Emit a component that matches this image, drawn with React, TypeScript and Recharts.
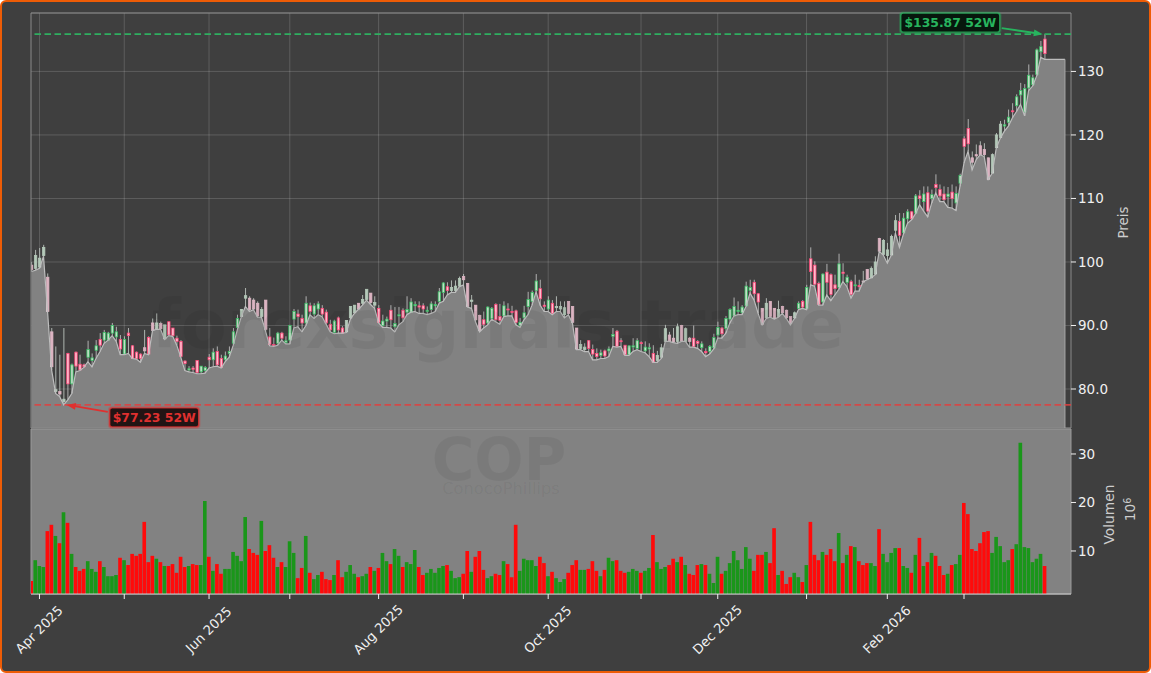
// COP Kurschart: Kerzen + Low-Flaeche oben, Volumen unten. Index = Handelstag.
import { Area, Bar, CartesianGrid, Cell, ComposedChart, ReferenceArea, ReferenceDot, ReferenceLine, XAxis, YAxis } from "recharts";

const opens = [
  99.5, 99.0, 99.2, 101.0, 97.6, 89.0, 79.6, 79.6, 78.0, 85.6,
  80.8, 85.8, 83.9, 83.8, 85.0, 84.5, 86.1, 87.8, 87.7, 87.7,
  88.8, 88.2, 87.8, 85.5, 88.8, 86.8, 85.8, 85.5, 86.5, 88.1,
  90.4, 89.5, 90.3, 87.9, 90.6, 89.6, 88.0, 87.5, 84.4, 83.0,
  83.3, 84.5, 82.7, 82.9, 85.0, 84.6, 85.9, 84.8, 84.6, 85.6,
  87.2, 89.7, 91.4, 94.3, 94.3, 94.0, 93.5, 91.4, 94.0, 88.2,
  87.0, 87.2, 88.8, 87.3, 87.7, 91.0, 91.8, 91.1, 90.4, 93.1,
  91.8, 92.6, 92.7, 92.1, 90.2, 88.9, 91.2, 89.6, 89.0, 91.2,
  92.0, 93.5, 93.5, 94.1, 95.1, 93.2, 92.7, 90.0, 90.7, 92.4,
  89.8, 91.5, 92.4, 92.1, 92.1, 93.1, 93.1, 93.1, 92.2, 92.5,
  93.1, 93.8, 95.2, 96.1, 95.5, 95.5, 96.2, 97.7, 96.6, 93.8,
  93.2, 91.6, 90.9, 90.4, 91.1, 93.3, 91.4, 91.5, 92.6, 92.2,
  92.3, 90.0, 91.2, 93.0, 93.8, 95.5, 95.8, 93.2, 92.6, 93.5,
  92.8, 92.6, 91.7, 93.8, 93.0, 89.6, 86.4, 86.2, 87.6, 86.2,
  85.6, 85.3, 86.0, 86.0, 88.3, 89.1, 87.6, 86.9, 85.4, 86.6,
  86.4, 87.3, 86.0, 86.3, 85.6, 84.5, 85.0, 87.5, 88.5, 88.0,
  87.5, 90.0, 87.5, 88.0, 88.0, 87.5, 86.5, 85.9, 85.9, 86.5,
  88.5, 89.6, 89.5, 91.0, 91.5, 92.2, 92.0, 93.1, 95.5, 96.8,
  95.0, 92.7, 91.2, 93.8, 92.7, 91.4, 93.0, 92.4, 91.4, 91.2,
  92.7, 93.8, 92.7, 100.5, 99.5, 96.6, 93.7, 98.4, 98.0, 96.4,
  96.0, 98.4, 96.8, 96.9, 96.3, 96.3, 97.0, 98.8, 97.5, 98.1,
  103.7, 101.2, 101.0, 101.1, 105.0, 106.4, 104.6, 106.8, 107.9, 107.7,
  110.4, 109.5, 110.9, 110.0, 112.2, 111.4, 110.7, 110.3, 111.0, 109.3,
  112.4, 119.4, 121.0, 116.4, 116.9, 118.3, 117.7, 116.4, 114.0, 118.0,
  119.6, 121.4, 122.0, 123.8, 124.6, 126.3, 123.6, 127.4, 127.9, 129.5, 133.1, 135.1,
];
const closes = [
  98.8, 101.0, 100.6, 102.3, 92.2, 83.5, 79.9, 79.2, 78.4, 80.8,
  83.8, 83.6, 83.0, 83.5, 86.2, 84.9, 86.8, 86.9, 88.9, 88.8,
  90.0, 89.0, 86.3, 87.8, 88.4, 84.8, 84.8, 84.8, 86.0, 85.5,
  89.2, 90.4, 89.5, 90.1, 88.5, 88.4, 87.5, 85.1, 84.0, 83.2,
  83.1, 82.6, 83.6, 83.4, 84.6, 85.8, 83.8, 83.4, 85.2, 85.9,
  89.0, 91.1, 92.5, 94.7, 92.5, 92.6, 91.5, 92.5, 89.4, 87.0,
  86.8, 88.8, 88.0, 87.6, 90.0, 92.2, 91.4, 90.4, 93.5, 92.2,
  93.1, 93.4, 91.8, 90.4, 89.3, 90.7, 89.3, 88.8, 90.8, 93.0,
  93.2, 92.6, 94.1, 95.7, 93.6, 93.6, 90.5, 90.7, 91.0, 90.9,
  90.3, 91.7, 91.2, 92.5, 93.7, 93.3, 92.9, 92.6, 92.4, 93.4,
  93.3, 95.3, 96.7, 95.5, 96.0, 96.2, 97.4, 97.2, 93.0, 94.0,
  90.9, 89.2, 90.2, 92.9, 92.7, 90.9, 90.8, 93.1, 92.5, 92.1,
  90.5, 90.5, 92.0, 94.1, 95.2, 97.0, 94.2, 93.0, 94.0, 91.9,
  93.0, 93.0, 92.8, 91.9, 90.5, 86.3, 87.0, 86.6, 86.4, 85.5,
  85.1, 85.7, 85.2, 86.3, 88.6, 86.7, 87.5, 85.4, 86.8, 86.8,
  87.6, 87.2, 86.6, 86.5, 84.2, 85.3, 86.5, 89.5, 87.6, 87.4,
  89.8, 87.6, 89.5, 87.5, 86.7, 87.2, 87.1, 85.7, 86.7, 88.1,
  89.7, 88.7, 91.1, 92.5, 93.0, 92.4, 92.9, 96.2, 96.0, 95.0,
  93.7, 90.2, 93.5, 91.4, 91.2, 92.5, 92.0, 91.2, 90.3, 92.0,
  93.5, 92.9, 96.0, 98.5, 96.5, 93.3, 98.1, 96.8, 94.9, 95.8,
  99.7, 98.2, 97.6, 94.9, 96.4, 96.1, 96.9, 97.3, 99.0, 100.0,
  101.7, 103.4, 101.9, 104.0, 106.5, 104.2, 106.9, 107.9, 106.8, 110.4,
  110.0, 110.7, 108.0, 110.6, 111.7, 110.4, 109.8, 110.7, 110.0, 110.8,
  113.6, 118.2, 118.6, 115.7, 116.7, 116.9, 116.9, 113.0, 116.9, 120.0,
  121.7, 121.6, 122.8, 123.7, 126.0, 127.0, 127.3, 129.4, 129.0, 133.4, 133.9, 132.8,
];
const highs = [
  100.0, 101.9, 102.2, 102.7, 98.2, 89.6, 86.7, 85.4, 89.6, 85.7,
  84.0, 85.9, 85.4, 84.0, 87.6, 85.6, 87.7, 88.8, 89.3, 89.0,
  90.4, 89.8, 88.5, 88.3, 89.6, 86.9, 85.9, 85.6, 89.3, 88.3,
  91.1, 91.9, 90.6, 90.1, 90.6, 89.6, 88.4, 87.7, 84.5, 83.6,
  83.6, 84.5, 83.6, 83.6, 85.5, 86.4, 86.7, 85.4, 85.9, 86.7,
  89.6, 91.7, 92.6, 95.9, 94.6, 94.3, 93.8, 92.9, 94.0, 89.6,
  88.1, 89.0, 89.0, 88.3, 90.1, 92.6, 92.5, 91.7, 94.6, 93.6,
  93.5, 93.8, 93.2, 92.5, 90.9, 90.9, 91.4, 89.9, 90.8, 93.0,
  93.2, 93.5, 94.8, 95.7, 95.1, 94.6, 93.2, 91.7, 91.4, 93.2,
  92.9, 92.9, 92.7, 94.6, 94.3, 93.8, 93.8, 93.5, 93.0, 93.8,
  93.8, 95.9, 96.8, 96.8, 97.1, 97.1, 97.7, 98.1, 96.7, 94.8,
  93.2, 91.7, 92.2, 93.0, 92.9, 93.5, 93.4, 93.8, 93.5, 93.1,
  92.5, 91.2, 93.1, 95.3, 95.5, 98.1, 97.2, 93.8, 94.6, 94.0,
  94.6, 93.8, 93.8, 93.8, 93.0, 89.6, 87.7, 87.2, 87.7, 87.0,
  86.4, 86.2, 86.2, 86.7, 89.6, 89.3, 88.0, 86.9, 86.9, 88.0,
  88.0, 87.5, 87.5, 87.2, 86.9, 86.0, 87.1, 90.1, 89.0, 89.6,
  90.3, 90.1, 89.7, 88.2, 90.0, 87.7, 87.5, 86.4, 86.9, 88.7,
  90.6, 89.8, 91.5, 92.7, 94.4, 93.8, 93.2, 96.9, 97.2, 97.2,
  95.1, 92.7, 94.3, 93.8, 92.7, 93.9, 93.1, 92.5, 91.4, 92.2,
  93.8, 94.0, 96.4, 102.3, 100.1, 96.9, 98.2, 99.7, 98.2, 98.0,
  101.3, 99.8, 98.0, 97.2, 98.0, 97.2, 98.6, 98.9, 99.3, 100.9,
  103.8, 103.6, 103.0, 104.3, 107.4, 107.7, 107.7, 108.3, 108.0, 110.7,
  111.3, 111.9, 111.9, 111.4, 113.8, 112.2, 111.9, 111.8, 112.2, 111.9,
  113.9, 119.8, 122.5, 117.4, 118.5, 119.0, 118.7, 116.4, 117.1, 120.3,
  122.2, 122.4, 124.0, 125.0, 126.4, 128.2, 128.0, 131.1, 129.5, 133.6, 134.8, 135.87,
];
// die letzten fuenf Werte fuehren nur die Flaeche flach weiter
const lows = [
  98.5, 98.7, 99.0, 100.9, 92.2, 83.0, 79.3, 78.8, 77.5, 78.3,
  79.3, 82.7, 82.9, 83.4, 84.3, 83.5, 84.8, 85.9, 87.2, 87.7,
  88.4, 87.5, 85.4, 85.4, 85.6, 84.8, 84.7, 84.2, 85.6, 85.4,
  89.2, 89.4, 89.4, 87.8, 88.4, 88.3, 86.9, 85.0, 82.9, 82.7,
  82.6, 82.4, 82.4, 82.5, 83.3, 83.5, 83.6, 83.3, 84.3, 85.0,
  86.9, 89.3, 91.4, 93.0, 92.2, 92.5, 91.3, 91.3, 89.1, 86.8,
  86.7, 86.9, 87.7, 87.1, 87.1, 89.6, 89.8, 89.0, 90.0, 91.7,
  91.1, 91.7, 91.4, 90.2, 89.0, 88.7, 88.8, 88.8, 88.9, 91.0,
  91.9, 92.55, 93.2, 94.0, 93.3, 92.7, 90.4, 89.7, 89.7, 89.6,
  89.0, 90.1, 90.6, 91.7, 92.1, 92.2, 91.9, 91.9, 91.7, 91.9,
  92.2, 93.5, 93.8, 94.8, 95.2, 95.2, 96.1, 96.4, 92.9, 92.7,
  90.6, 89.0, 89.6, 90.1, 91.0, 90.6, 90.2, 91.4, 91.5, 91.5,
  90.1, 89.7, 90.9, 91.7, 93.2, 95.3, 93.2, 92.2, 92.2, 91.7,
  92.2, 92.2, 91.2, 91.7, 90.4, 86.2, 86.2, 85.9, 85.9, 84.6,
  84.6, 84.8, 84.8, 85.1, 86.7, 86.6, 86.7, 85.3, 85.3, 85.9,
  86.2, 85.9, 85.7, 85.1, 84.2, 84.2, 84.8, 87.5, 87.5, 87.3,
  87.2, 87.5, 87.5, 86.6, 86.6, 86.4, 85.9, 85.1, 85.5, 86.3,
  88.0, 88.0, 88.8, 90.4, 91.5, 91.7, 91.7, 93.0, 95.1, 94.0,
  91.9, 90.1, 91.1, 91.3, 91.0, 91.3, 91.9, 91.1, 90.1, 91.1,
  92.5, 92.7, 92.5, 96.4, 96.2, 93.2, 93.2, 94.8, 93.9, 94.8,
  95.7, 96.9, 96.1, 94.3, 95.4, 95.4, 96.9, 97.2, 97.5, 98.0,
  101.7, 101.1, 99.8, 101.1, 104.55, 102.3, 104.4, 106.1, 106.65, 107.6,
  109.0, 108.0, 107.1, 109.3, 110.9, 109.5, 109.5, 108.6, 108.5, 108.1,
  111.9, 115.6, 117.4, 114.5, 116.1, 116.9, 116.6, 113.0, 114.0, 118.0,
  119.5, 120.6, 121.4, 122.7, 123.7, 124.8, 123.0, 127.0, 127.7, 129.3, 132.2, 131.9,
  131.9, 131.9, 131.9, 131.9, 131.9,
];
const volumes = [
  3.8, 8.1, 6.9, 6.7, 14.1, 15.4, 13.1, 11.6, 18.0, 15.8,
  9.4, 6.7, 5.9, 6.3, 7.9, 6.3, 5.7, 7.9, 6.7, 4.8,
  4.8, 5.05, 8.6, 8.1, 7.1, 9.4, 9.0, 9.4, 16.0, 7.7,
  9.0, 8.4, 7.7, 6.9, 6.9, 7.3, 5.5, 8.8, 6.7, 6.9,
  7.3, 7.1, 7.1, 20.3, 8.8, 5.9, 7.3, 5.3, 6.3, 6.3,
  9.8, 9.0, 7.9, 17.0, 10.4, 9.6, 9.2, 16.2, 10.0, 11.2,
  8.6, 6.7, 7.7, 6.7, 12.0, 9.6, 4.4, 6.5, 13.1, 5.5,
  4.2, 5.05, 5.7, 4.2, 4.0, 5.05, 8.1, 4.6, 5.7, 7.1,
  5.3, 4.6, 4.8, 5.3, 6.7, 5.9, 6.5, 9.6, 7.9, 7.3,
  10.4, 9.0, 6.7, 7.7, 7.3, 10.2, 6.7, 5.05, 5.5, 6.3,
  5.5, 6.5, 6.9, 7.1, 5.9, 4.4, 4.6, 5.3, 10.0, 5.7,
  8.8, 10.0, 6.1, 4.4, 4.8, 5.3, 5.05, 7.9, 7.3, 4.6,
  15.4, 5.9, 8.4, 8.1, 8.1, 6.9, 8.8, 7.5, 4.8, 5.7,
  4.4, 3.6, 4.2, 5.5, 7.1, 8.1, 6.1, 6.1, 6.3, 7.9,
  5.9, 4.8, 6.1, 8.6, 7.9, 8.1, 5.9, 5.5, 5.7, 6.3,
  5.9, 5.5, 5.9, 6.5, 13.3, 7.7, 6.3, 6.7, 7.1, 8.4,
  7.7, 8.8, 7.1, 5.3, 5.05, 7.1, 7.3, 7.1, 5.3, 3.4,
  8.8, 5.3, 5.9, 7.5, 10.0, 8.1, 6.3, 10.8, 8.4, 5.9,
  9.2, 9.2, 9.8, 7.5, 14.7, 5.05, 5.9, 3.2, 4.6, 5.5,
  4.6, 3.6, 7.1, 16.0, 9.2, 8.1, 9.8, 9.2, 10.4, 7.9,
  13.7, 7.5, 9.2, 11.0, 10.8, 7.9, 7.1, 7.5, 7.5, 6.9,
  14.5, 9.4, 7.7, 9.6, 10.6, 10.6, 6.9, 6.5, 5.5, 9.2,
  12.7, 6.9, 7.7, 9.6, 9.0, 6.9, 5.05, 5.3, 7.1, 7.3,
  9.2, 19.9, 17.6, 10.4, 10.0, 11.6, 13.9, 14.1, 9.6, 12.9,
  11.0, 7.7, 8.1, 10.4, 11.4, 32.3, 10.8, 10.6, 7.7, 8.4, 9.4, 6.9,
];
// 1 = Volumen gruen, 0 = rot
const volumeUp = [
  0, 1, 1, 1, 0, 0, 1, 0, 1, 0,
  1, 0, 0, 0, 1, 1, 1, 0, 1, 1,
  1, 1, 0, 1, 0, 0, 0, 0, 0, 0,
  0, 1, 0, 1, 0, 0, 0, 0, 0, 1,
  0, 0, 1, 1, 0, 1, 0, 0, 1, 1,
  1, 1, 1, 1, 0, 0, 0, 1, 0, 0,
  0, 1, 0, 1, 1, 1, 0, 0, 1, 0,
  1, 1, 0, 0, 0, 1, 0, 0, 1, 1,
  1, 0, 1, 1, 0, 1, 0, 1, 1, 0,
  1, 1, 0, 1, 1, 1, 0, 0, 1, 1,
  1, 1, 1, 0, 1, 1, 1, 0, 0, 1,
  0, 0, 0, 1, 1, 0, 0, 1, 0, 0,
  0, 1, 1, 1, 1, 1, 0, 0, 1, 0,
  1, 1, 1, 0, 0, 0, 1, 1, 0, 0,
  0, 1, 0, 1, 1, 0, 0, 0, 1, 1,
  1, 0, 1, 1, 0, 1, 1, 1, 0, 0,
  1, 0, 1, 0, 0, 0, 1, 0, 1, 1,
  1, 0, 1, 1, 1, 1, 1, 1, 1, 0,
  0, 0, 1, 0, 0, 1, 0, 0, 0, 1,
  1, 0, 1, 0, 0, 0, 1, 0, 0, 0,
  1, 0, 1, 0, 1, 0, 0, 0, 1, 1,
  0, 1, 1, 1, 1, 0, 1, 1, 0, 1,
  0, 1, 0, 1, 0, 0, 0, 1, 0, 1,
  1, 0, 0, 0, 0, 0, 0, 0, 1, 1,
  1, 1, 1, 0, 1, 1, 1, 1, 1, 1, 1, 0,
];
// Kerzen, die im Bild nur blass durch die Flaeche scheinen
const paleCandles = [
  0, 1, 2, 3, 4, 5, 6, 7, 8, 28, 30, 31, 32, 33, 52, 53, 54, 55, 56, 57, 58,
  78, 79, 80, 81, 82, 83, 84, 85, 104, 105, 106, 107, 108, 109, 110, 111,
  130, 131, 132, 133, 134, 135, 136, 137, 155, 156, 157, 158, 159, 160, 161, 162, 163,
  181, 182, 183, 184, 185, 186, 187, 188, 189, 206, 207, 208, 209, 210, 211, 212, 213, 214,
  233, 234, 235, 236, 237, 238, 239, 240,
];

const monthTicks = [2, 23, 44, 64, 86, 107, 128, 151, 170, 192, 212, 231];
const monthLabels = ["Apr 2025", "", "Jun 2025", "", "Aug 2025", "", "Oct 2025", "", "Dec 2025", "", "Feb 2026", ""];
const priceTicks = [80, 90, 100, 110, 120, 130];
const volumeTicks = [10, 20, 30];
const yearHigh = 135.87;
const yearLow = 77.5;

const X_DOMAIN = [-0.1, 257.5];
const PRICE_DOMAIN = [73.86, 139.2];
const VOLUME_DOMAIN = [1.13, 35.15];
const WHITE = "#f0f0f0";
const TICK_FONT = 13.5;

const priceRows = lows.map((low, i) => ({ i, low, open: opens[i], close: closes[i], high: highs[i] }));
const volumeRows = volumes.map((volume, i) => ({ i, volume }));

function Candle(props: any) {
  const { x, y, width, height, payload } = props;
  if (payload.high == null) return null;
  const k = height / (payload.high - payload.low);
  const up = payload.close >= payload.open;
  const pale = paleCandles.includes(payload.i);
  const top = y + (payload.high - Math.max(payload.open, payload.close)) * k;
  const bodyH = Math.max(Math.abs(payload.open - payload.close) * k, 1);
  const mid = x + width / 2;
  const edge = pale ? (up ? "#b4c9b9" : "#dcb4c2") : up ? "#36c263" : "#ff4477";
  const fill = pale ? edge : up ? "#c4dcc8" : "#ffbccd";
  return (
    <g>
      <line x1={mid} x2={mid} y1={y} y2={y + height} stroke={pale ? "#bcc4be" : "#bdbdbd"} strokeWidth={0.9} />
      <rect x={x} y={top} width={width} height={bodyH} fill={fill} stroke={edge} strokeWidth={0.75} />
    </g>
  );
}

function MonthTick({ x, y, payload }: any) {
  const label = monthLabels[monthTicks.indexOf(payload.value)];
  if (!label) return null;
  return (
    <text x={x} y={y + 33} textAnchor="middle" fontSize={13.2} fill={WHITE} transform={`rotate(-45 ${x} ${y + 29})`}>
      {label}
    </text>
  );
}

function priceLabel(v: number) {
  return v >= 100 ? String(v) : v.toFixed(1);
}

function Callout({ cx, cy, text, color, boxFill, boxX, boxY, boxW, tipX, tailX, tailY }: any) {
  const tip = cx + tipX;
  const dx = cx + tailX - tip;
  const dy = tailY;
  const len = Math.hypot(dx, dy);
  const ux = dx / len;
  const uy = dy / len;
  const head = `${tip},${cy} ${tip + ux * 9 - uy * 3.5},${cy + uy * 9 + ux * 3.5} ${tip + ux * 9 + uy * 3.5},${cy + uy * 9 - ux * 3.5}`;
  return (
    <g>
      <line x1={cx + tailX} y1={cy + tailY} x2={tip + ux * 8} y2={cy + uy * 8} stroke={color} strokeWidth={1.8} />
      <polygon points={head} fill={color} />
      <rect x={cx + boxX - 1} y={cy + boxY - 1} width={boxW + 2} height={21} rx={3} fill="none" stroke={color} strokeWidth={1.5} strokeOpacity={0.3} />
      <rect x={cx + boxX} y={cy + boxY} width={boxW} height={19} rx={2.5} fill={boxFill} stroke={color} strokeWidth={1.4} strokeOpacity={0.8} />
      <text x={cx + boxX + boxW / 2} y={cy + boxY + 14} textAnchor="middle" fontSize={12.4} fontWeight="bold" fill={color}>
        {text}
      </text>
    </g>
  );
}

function PriceTitle({ viewBox }: any) {
  const cx = viewBox.x + 53;
  const cy = viewBox.y + viewBox.height / 2 + 2;
  return (
    <text x={cx} y={cy} textAnchor="middle" fontSize={13.4} fill="#cdcdcd" transform={`rotate(-90 ${cx} ${cy})`} dy={4}>
      Preis
    </text>
  );
}

function VolumeTitle({ viewBox }: any) {
  const cx = viewBox.x + 39;
  const cx2 = viewBox.x + 60;
  const cy = viewBox.y + viewBox.height / 2 + 3;
  return (
    <g fontSize={13.8} fill="#cdcdcd">
      <text x={cx} y={cy} textAnchor="middle" transform={`rotate(-90 ${cx} ${cy})`} dy={4}>
        Volumen
      </text>
      <text x={cx2} y={cy - 5} textAnchor="middle" transform={`rotate(-90 ${cx2} ${cy - 5})`} dy={4}>
        10<tspan dy={-4} fontSize={9.6}>6</tspan>
      </text>
    </g>
  );
}

export default function App() {
  return (
    <div style={{ position: "relative", width: 1151, height: 673, fontFamily: "'DejaVu Sans', sans-serif", overflow: "hidden" }}>
      <style>{"body{margin:0;background:#fff}"}</style>
      <div
        style={{
          position: "absolute",
          inset: 0,
          boxSizing: "border-box",
          background: "#3f3f3f",
          border: "2.5px solid #ee5c06",
          borderRadius: 6,
        }}
      />

      <div style={{ position: "absolute", left: 0, top: 0 }}>
        <ComposedChart width={1151} height={673} data={volumeRows} margin={{ top: 429, right: 30, bottom: 0, left: 31 }}>
          <CartesianGrid fill="#828282" horizontal={false} vertical={false} />
          <XAxis
            dataKey="i"
            type="number"
            domain={X_DOMAIN}
            allowDataOverflow
            ticks={monthTicks}
            interval={0}
            height={79}
            tick={<MonthTick />}
            tickSize={5}
            stroke="#c9c9c9"
            tickLine={{ stroke: WHITE }}
          />
          <YAxis
            orientation="right"
            domain={VOLUME_DOMAIN}
            allowDataOverflow
            ticks={volumeTicks}
            width={50}
            tickSize={5}
            axisLine={false}
            tick={{ fill: WHITE, fontSize: TICK_FONT }}
            tickLine={{ stroke: WHITE }}
            label={<VolumeTitle />}
          />
          <Bar dataKey="volume" barSize={4.3} isAnimationActive={false}>
            {volumeRows.map((r) => (
              <Cell key={r.i} fill={volumeUp[r.i] ? "#1a961a" : "#ff0a0a"} />
            ))}
          </Bar>
          <ReferenceArea x1={X_DOMAIN[0]} x2={X_DOMAIN[1]} y1={VOLUME_DOMAIN[0]} y2={VOLUME_DOMAIN[1]} fill="none" stroke="#9a9a9a" />
        </ComposedChart>
      </div>

      <div style={{ position: "absolute", left: 0, top: 0 }}>
        <ComposedChart width={1151} height={430} data={priceRows} margin={{ top: 13, right: 30, bottom: 2, left: 31 }}>
          <CartesianGrid stroke="#ffffff" strokeOpacity={0.16} vertical={false} />
          {monthTicks.map((t) => (
            <ReferenceLine key={t} x={t} stroke="#ffffff" strokeOpacity={0.16} zIndex={10} />
          ))}
          <XAxis dataKey="i" type="number" domain={X_DOMAIN} allowDataOverflow height={0} tick={false} tickLine={false} axisLine={false} />
          <YAxis
            orientation="right"
            domain={PRICE_DOMAIN}
            allowDataOverflow
            ticks={priceTicks}
            width={50}
            tickSize={5}
            axisLine={false}
            tickFormatter={priceLabel}
            tick={{ fill: WHITE, fontSize: TICK_FONT }}
            tickLine={{ stroke: WHITE }}
            label={<PriceTitle />}
          />
          {/* erst deckend, damit das Gitter unter der Flaeche verschwindet */}
          <Area dataKey="low" type="linear" fill="#3f3f3f" fillOpacity={1} stroke="none" isAnimationActive={false} zIndex={20} />
          <Bar dataKey={(d: any) => (d.high == null ? null : [d.low, d.high])} barSize={2.4} shape={<Candle />} isAnimationActive={false} zIndex={50} />
          <Area dataKey="low" type="linear" fill="#ffffff" fillOpacity={0.35} stroke="#bdbdbd" strokeWidth={1.2} isAnimationActive={false} zIndex={100} />
          <ReferenceLine segment={[{ x: 256, y: PRICE_DOMAIN[0] }, { x: 256, y: 131.9 }]} stroke="#a8a8a8" />
          <ReferenceArea x1={X_DOMAIN[0]} x2={X_DOMAIN[1]} y1={PRICE_DOMAIN[0]} y2={PRICE_DOMAIN[1]} fill="none" stroke="#8a8a8a" />
          <ReferenceLine y={yearHigh} stroke="#2fae60" strokeWidth={1.6} strokeDasharray="6.5 3.5" />
          <ReferenceLine y={yearLow} stroke="#e0403f" strokeWidth={1.6} strokeDasharray="6.5 3.5" strokeOpacity={0.85} />
          <ReferenceDot
            x={251}
            y={yearHigh}
            r={0}
            shape={(p: any) => (
              <Callout {...p} text="$135.87 52W" color="#27b45e" boxFill="#07170d" boxX={-144} boxY={-21} boxW={99} tipX={-2} tailX={-43} tailY={-6} />
            )}
          />
          <ReferenceDot
            x={8}
            y={yearLow}
            r={0}
            shape={(p: any) => (
              <Callout {...p} text="$77.23 52W" color="#e0302f" boxFill="#221414" boxX={46} boxY={3} boxW={89} tipX={3} tailX={44} tailY={7} />
            )}
          />
        </ComposedChart>
      </div>

      {/* Wasserzeichen */}
      <svg width={1151} height={673} style={{ position: "absolute", left: 0, top: 0, pointerEvents: "none" }}>
        <g fill="#000" fillOpacity={0.055} textAnchor="middle">
          <text x={498} y={348} fontSize={67} fontWeight="bold">forexsignals.trade</text>
          <text x={499} y={480} fontSize={58} fontWeight="bold">COP</text>
          <text x={501} y={494} fontSize={16.3}>ConocoPhillips</text>
        </g>
      </svg>
    </div>
  );
}
